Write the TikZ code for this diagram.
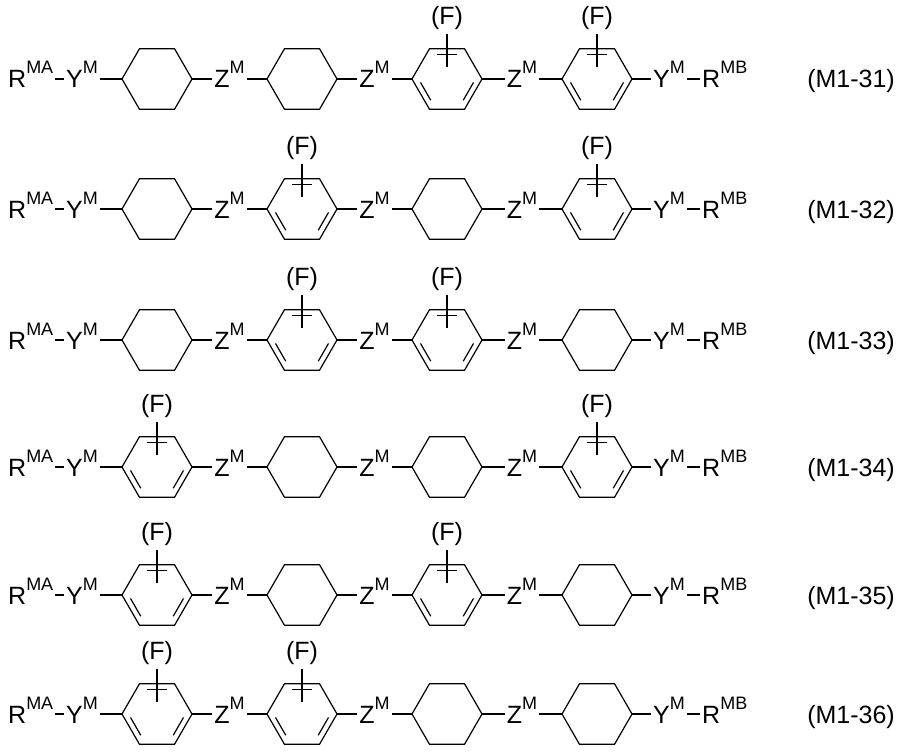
\documentclass[tikz,border=0pt]{standalone}
\usepackage{fontspec}
\setmainfont{Liberation Sans}
\usetikzlibrary{calc}
\newcommand\supx[1]{\raisebox{14pt}{\fontsize{18}{18}\selectfont #1}}
\tikzset{bond/.style={line width=1.2pt},
  lbl/.style={font=\fontsize{25}{25}\selectfont, inner sep=2pt, anchor=base},
  flbl/.style={font=\fontsize{25}{25}\selectfont, inner sep=0pt}}
\newcommand\ringx[4]{% x, y, name, type
  \coordinate (#3c) at (#1,#2);
  \coordinate (#3L) at (#1-35,#2);
  \coordinate (#3R) at (#1+35,#2);
  \draw[bond] (#3R) -- ++(120:35) -- ++(180:35) -- ++(240:35) -- ++(300:35) -- ++(0:35) -- cycle;
  \if#4A
    \foreach \a in {0,120,240}{
      \coordinate (p1) at ($(#3c)+(\a:28.5)$);
      \coordinate (p2) at ($(#3c)+(\a+60:28.5)$);
      \draw[bond] ($(p1)!0.14!(p2)$) -- ($(p1)!0.86!(p2)$);
    }
    \coordinate (#3ft) at (#1,#2-45);
    \coordinate (#3fb) at (#1,#2-12);
    \draw[bond] (#3ft) -- (#3fb);
    \node[flbl] (#3F) at (#1,#2-61) {(F)};
  \fi
}
\newcommand\rowx[7]{% y, label, t1..t4, row name
  \ringx{157}{#1}{#7a}{#3}
  \ringx{302}{#1}{#7b}{#4}
  \ringx{447}{#1}{#7c}{#5}
  \ringx{597}{#1}{#7d}{#6}
  \node[lbl, anchor=base west] (#7ra) at (6,#1+9) {R\supx{MA}};
  \node[lbl, anchor=base west] (#7ya) at (64,#1+9) {Y\supx{M}};
  \node[lbl] (#7z1) at (229.5,#1+9) {Z\supx{M}};
  \node[lbl] (#7z2) at (374.5,#1+9) {Z\supx{M}};
  \node[lbl] (#7z3) at (522,#1+9) {Z\supx{M}};
  \node[lbl, anchor=base west] (#7yb) at (651,#1+9) {Y\supx{M}};
  \node[lbl, anchor=base west] (#7rb) at (700,#1+9) {R\supx{MB}};
  \node[lbl] (#7lab) at (851,#1+9) {#2};
  \draw[bond] (#7ra.east |- #7ac) -- (#7ya.west |- #7ac);
  \draw[bond] (#7ya.east |- #7ac) -- (#7aL);
  \draw[bond] (#7aR) -- (#7z1.west |- #7ac);
  \draw[bond] (#7z1.east |- #7ac) -- (#7bL);
  \draw[bond] (#7bR) -- (#7z2.west |- #7ac);
  \draw[bond] (#7z2.east |- #7ac) -- (#7cL);
  \draw[bond] (#7cR) -- (#7z3.west |- #7ac);
  \draw[bond] (#7z3.east |- #7ac) -- (#7dL);
  \draw[bond] (#7dR) -- (#7yb.west |- #7ac);
  \draw[bond] (#7yb.east |- #7ac) -- (#7rb.west |- #7ac);
}
\begin{document}
\begin{tikzpicture}[x=1pt,y=-1pt]
\useasboundingbox (0,0) rectangle (902,752);
\rowx{79}{(M1-31)}{C}{C}{A}{A}{p}
\rowx{209}{(M1-32)}{C}{A}{C}{A}{q}
\rowx{340}{(M1-33)}{C}{A}{A}{C}{r}
\rowx{467}{(M1-34)}{A}{C}{C}{A}{s}
\rowx{595}{(M1-35)}{A}{C}{A}{C}{t}
\rowx{714}{(M1-36)}{A}{A}{C}{C}{u}
\end{tikzpicture}
\end{document}
